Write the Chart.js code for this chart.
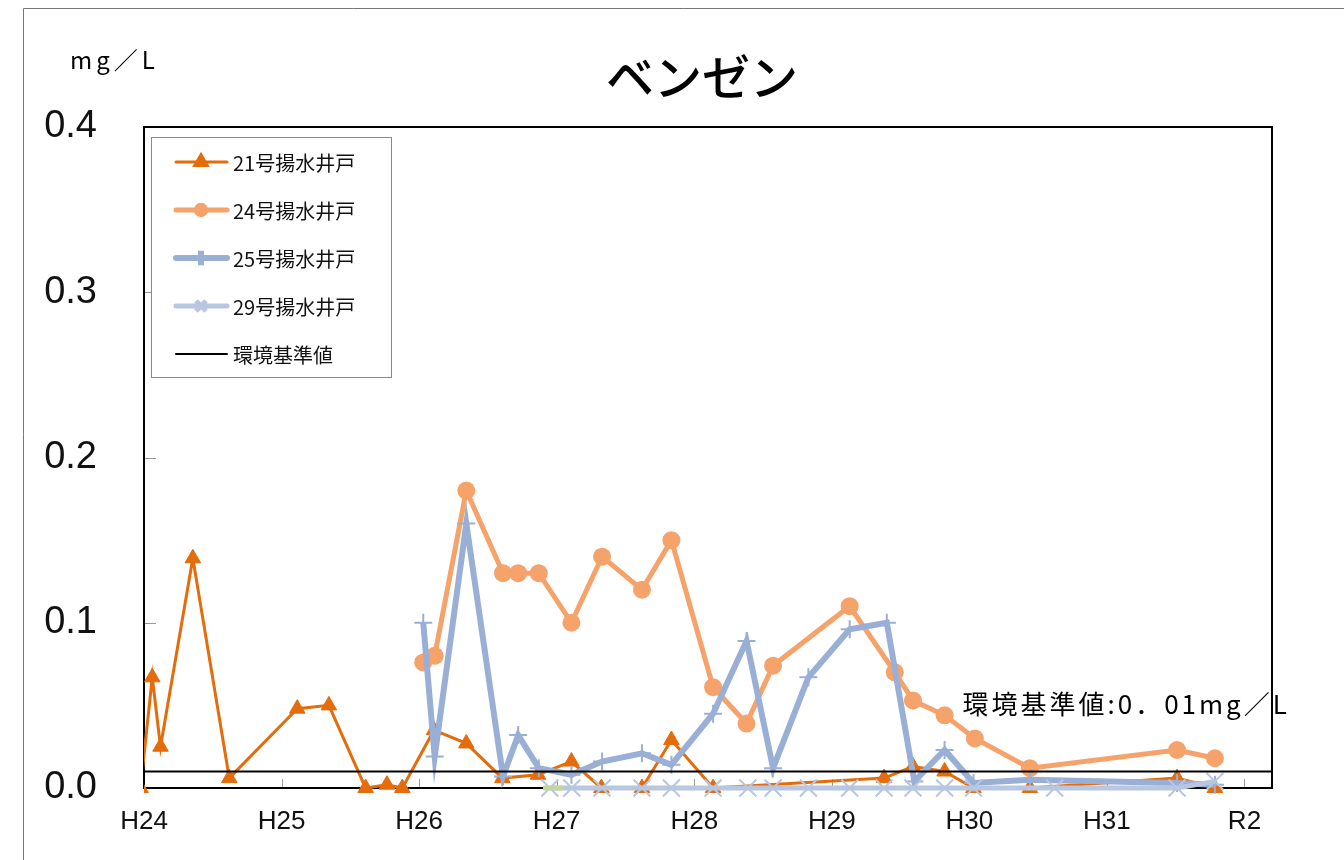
<!DOCTYPE html>
<html lang="ja">
<head>
<meta charset="utf-8">
<title>ベンゼン</title>
<script src="https://cdn.jsdelivr.net/npm/chart.js@4.4.1/dist/chart.umd.min.js"></script>
<style>
  html, body { margin: 0; padding: 0; background: #fff; }
  #wrap { position: relative; width: 1344px; height: 860px; }
</style>
</head>
<body>
<div id="wrap"><canvas id="grafico" width="1344" height="860"></canvas></div>
<script>
// 年度の目盛り (H24 = 24 ... R2 = 32)
const nendoLabels = ["H24", "H25", "H26", "H27", "H28", "H29", "H30", "H31", "R2"];
const yTicks = [0, 0.1, 0.2, 0.3, 0.4];
const kijunchi = 0.01; // 環境基準値 mg/L

// 21号揚水井戸
const fecha21 = [23.975, 24.06, 24.12, 24.355, 24.62, 25.114, 25.344, 25.611, 25.766, 25.878,
  26.108, 26.343, 26.605, 26.864, 27.107, 27.325, 27.62, 27.834, 28.137, 29.38, 29.59, 29.82,
  30.03, 30.44, 31.51, 31.785];
const valor21 = [0.0, 0.067, 0.025, 0.139, 0.006, 0.048, 0.05, 0.0, 0.002, 0.0,
  0.035, 0.027, 0.006, 0.008, 0.016, 0.0, 0.0, 0.029, 0.0, 0.006, 0.013, 0.01,
  0.0, 0.0, 0.006, 0.0];

// 24号揚水井戸
const fecha24 = [26.03, 26.113, 26.343, 26.61, 26.72, 26.87, 27.107, 27.33, 27.62, 27.834,
  28.137, 28.38, 28.573, 29.13, 29.458, 29.59, 29.82, 30.04, 30.44, 31.51, 31.785];
const valor24 = [0.076, 0.08, 0.18, 0.13, 0.13, 0.13, 0.10, 0.14, 0.12, 0.15,
  0.061, 0.039, 0.074, 0.11, 0.07, 0.053, 0.044, 0.03, 0.012, 0.023, 0.018];

// 25号揚水井戸
const fecha25 = [26.03, 26.113, 26.343, 26.61, 26.72, 26.87, 27.107, 27.33, 27.62, 27.834,
  28.137, 28.38, 28.573, 28.83, 29.13, 29.40, 29.60, 29.82, 30.03, 30.44, 31.51, 31.785];
const valor25 = [0.10, 0.019, 0.16, 0.007, 0.032, 0.012, 0.008, 0.016, 0.021, 0.014,
  0.045, 0.089, 0.012, 0.067, 0.096, 0.10, 0.004, 0.023, 0.003, 0.005, 0.003, 0.002];

// 29号揚水井戸
const fecha29 = [26.95, 27.11, 27.33, 27.62, 27.834, 28.137, 28.39, 28.573, 28.83, 29.13,
  29.38, 29.59, 29.82, 30.03, 30.62, 31.51, 31.785];
const valor29 = [0, 0, 0, 0, 0, 0, 0, 0, 0, 0, 0, 0, 0, 0, 0, 0, 0.004];

// 凡例に出ない短い系列
const fechaVerde = [26.9, 27.045];
const valorVerde = [0, 0];

const puntos = (xs, ys) => xs.map((x, i) => ({ x: x, y: ys[i] }));

const fuenteJP = '"Noto Sans CJK JP", "Noto Sans", sans-serif';
const fuenteNum = '"Liberation Sans", Arial, sans-serif';

// deja ver las marcas en 0 por debajo del eje
const recorte = { left: 0, top: 12, right: 12, bottom: 12 };

const datasets = [
  {
    label: "環境基準値",
    data: [{ x: 24, y: kijunchi }, { x: 32.2, y: kijunchi }],
    borderColor: "#000", backgroundColor: "#000",
    borderWidth: 2, pointRadius: 0, order: 0
  },
  {
    label: "",
    data: puntos(fechaVerde, valorVerde),
    borderColor: "#C3D69B", backgroundColor: "#C3D69B",
    borderWidth: 5, pointRadius: 0, order: 1, clip: recorte
  },
  {
    label: "29号揚水井戸",
    data: puntos(fecha29, valor29),
    borderColor: "#B8C6E0", backgroundColor: "#B8C6E0",
    borderWidth: 5, pointStyle: "crossRot", pointRadius: 12, pointBorderWidth: 2, order: 2,
    clip: recorte
  },
  {
    label: "25号揚水井戸",
    data: puntos(fecha25, valor25),
    borderColor: "#9AAFD5", backgroundColor: "#9AAFD5",
    borderWidth: 6, pointStyle: "cross", pointRadius: 9, pointBorderWidth: 2, order: 3,
    clip: recorte
  },
  {
    label: "24号揚水井戸",
    data: puntos(fecha24, valor24),
    borderColor: "#F5A26B", backgroundColor: "#F5A26B",
    borderWidth: 5, pointStyle: "circle", pointRadius: 9, pointBorderWidth: 0, order: 4,
    clip: recorte
  },
  {
    label: "21号揚水井戸",
    data: puntos(fecha21, valor21),
    borderColor: "#E46C0A", backgroundColor: "#E46C0A",
    borderWidth: 3, pointStyle: "triangle", pointRadius: 9, pointBorderWidth: 1, order: 5,
    clip: recorte
  }
];

const ordenLeyenda = ["21号揚水井戸", "24号揚水井戸", "25号揚水井戸", "29号揚水井戸", "環境基準値"];

// marco, ticks interiores, leyenda y textos
const marco = {
  id: "marco",
  beforeDatasetsDraw(chart) {
    const { ctx, chartArea: a, scales: { x, y } } = chart;
    ctx.save();
    ctx.strokeStyle = "#777";
    ctx.lineWidth = 1;
    ctx.beginPath();
    ctx.moveTo(23.5, 860);
    ctx.lineTo(23.5, 8.5);
    ctx.lineTo(1344, 8.5);
    ctx.stroke();

    ctx.strokeStyle = "#999";
    ctx.beginPath();
    x.ticks.forEach(t => {
      const px = Math.round(x.getPixelForValue(t.value)) + 0.5;
      ctx.moveTo(px, a.bottom);
      ctx.lineTo(px, a.bottom - 9);
    });
    y.ticks.forEach(t => {
      const py = Math.round(y.getPixelForValue(t.value)) + 0.5;
      ctx.moveTo(a.left, py);
      ctx.lineTo(a.left + 12, py);
    });
    ctx.stroke();

    ctx.strokeStyle = "#000";
    ctx.lineWidth = 2;
    ctx.strokeRect(a.left, a.top, a.right - a.left, a.bottom - a.top);
    ctx.restore();
  },
  afterDraw(chart) {
    const { ctx, scales: { x, y } } = chart;
    ctx.save();
    // titulo
    ctx.fillStyle = "#000";
    ctx.textAlign = "center";
    ctx.textBaseline = "middle";
    ctx.font = "500 48px " + fuenteJP;
    ctx.fillText("ベンゼン", 702, 77);

    // unidad
    ctx.textAlign = "left";
    ctx.font = "24px " + fuenteJP;
    ctx.letterSpacing = "4px";
    ctx.fillText("mg／L", 70, 60);

    // nota del valor estándar
    ctx.font = "26px " + fuenteJP;
    ctx.letterSpacing = "3px";
    ctx.fillText("環境基準値:0．01mg／L", x.getPixelForValue(29.95), y.getPixelForValue(0.051));
    ctx.letterSpacing = "0px";

    // leyenda
    ctx.strokeStyle = "#888";
    ctx.lineWidth = 1;
    ctx.fillStyle = "#fff";
    ctx.fillRect(151.5, 137.5, 240, 240);
    ctx.strokeRect(151.5, 137.5, 240, 240);
    ctx.font = "20px " + fuenteJP;
    ordenLeyenda.forEach((nombre, i) => {
      const ds = chart.data.datasets.find(d => d.label === nombre);
      const cy = 162 + i * 48;
      ctx.strokeStyle = ds.borderColor;
      ctx.lineWidth = ds.borderWidth;
      ctx.lineCap = "round";
      ctx.beginPath();
      ctx.moveTo(176, cy);
      ctx.lineTo(227, cy);
      ctx.stroke();
      ctx.lineCap = "butt";
      if (ds.pointRadius > 0) {
        ctx.fillStyle = ds.backgroundColor;
        ctx.strokeStyle = ds.borderColor;
        Chart.helpers.drawPoint(ctx, {
          pointStyle: ds.pointStyle,
          radius: Math.min(ds.pointRadius, 9) * 0.8,
          borderWidth: ds.pointBorderWidth,
          rotation: 0
        }, 201, cy);
      }
      ctx.fillStyle = "#111";
      ctx.textAlign = "left";
      ctx.textBaseline = "middle";
      ctx.fillText(nombre, 233, cy + 1);
    });
    ctx.restore();
  }
};

new Chart(document.getElementById("grafico"), {
  type: "line",
  data: { datasets: datasets },
  options: {
    responsive: false,
    animation: false,
    layout: { padding: { top: 127, right: 72, left: 0, bottom: 0 } },
    plugins: {
      legend: { display: false },
      tooltip: { enabled: false },
      title: { display: false }
    },
    elements: { line: { tension: 0 } },
    scales: {
      x: {
        type: "linear",
        min: 24,
        max: 32.2,
        afterBuildTicks: s => { s.ticks = nendoLabels.map((_, i) => ({ value: 24 + i })); },
        afterFit: s => { s.height = 72; },
        grid: { display: false, drawTicks: false },
        border: { display: false },
        ticks: {
          autoSkip: false,
          maxRotation: 0,
          padding: 18,
          color: "#111",
          font: { family: fuenteNum, size: 26 },
          callback: v => nendoLabels[Math.round(v) - 24]
        }
      },
      y: {
        min: 0,
        max: 0.4,
        afterBuildTicks: s => { s.ticks = yTicks.map(v => ({ value: v })); },
        afterFit: s => { s.width = 144; },
        grid: { display: false, drawTicks: false },
        border: { display: false },
        ticks: {
          padding: 47,
          color: "#111",
          font: { family: fuenteNum, size: 38 },
          callback: v => v.toFixed(1)
        }
      }
    }
  },
  plugins: [marco]
});
</script>
</body>
</html>
